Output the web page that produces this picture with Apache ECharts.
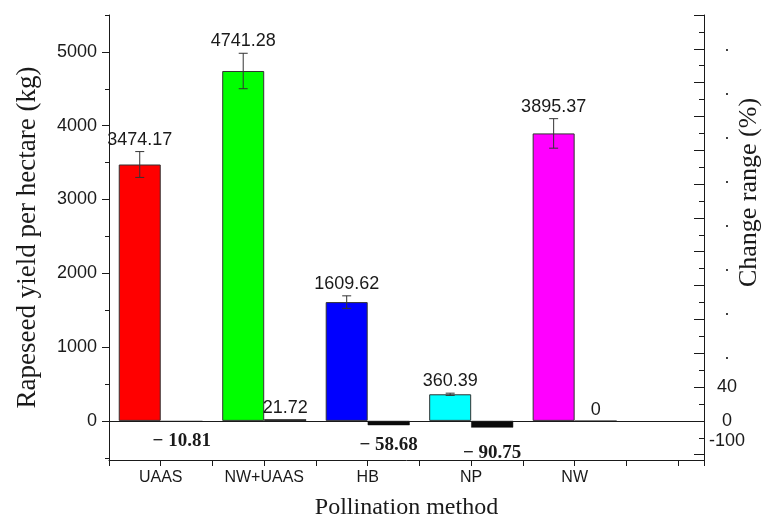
<!DOCTYPE html>
<html>
<head>
<meta charset="utf-8">
<script src="https://cdn.jsdelivr.net/npm/echarts@6/dist/echarts.min.js"></script>
<style>
  html, body { margin: 0; padding: 0; background: #fff; }
  #chart { width: 765px; height: 525px; }
</style>
</head>
<body>
<div id="chart"></div>
<script>
// Pollination methods and measured yield (kg per hectare) with its error
const categories = ['UAAS', 'NW+UAAS', 'HB', 'NP', 'NW'];
const yieldKg = [3474.17, 4741.28, 1609.62, 360.39, 3895.37];
const yieldErr = [175, 240, 85, 15, 200];
// Change range (%) for each method
const changePct = [-10.81, 21.72, -58.68, -90.75, 0];
const barColors = ['#ff0000', '#00ff00', '#0000ff', '#00ffff', '#ff00ff'];

// Left axis tick values
const leftMajorTicks = [0, 1000, 2000, 3000, 4000, 5000];
const leftMinorTicks = [-500, 500, 1500, 2500, 3500, 4500, 5500];
// Right axis tick labels
const rightLabelValues = [-24, 0, 40, 74, 126, 178, 230, 282, 334, 386, 438];
const rightLabelTexts = ['-100', '0', '40', '·', '·', '·', '·', '·', '·', '·', '·'];

const LEFT_MIN = -530, LEFT_MAX = 5500;
const RIGHT_MIN = -46.3, RIGHT_MAX = 480;
const BAR_W = 42;

const rightMajorTicks = [], rightMinorTicks = [];
for (let v = -40; v <= 480; v += 40) rightMajorTicks.push(v);
for (let v = -20; v < 480; v += 40) rightMinorTicks.push(v);

const sans = '"Liberation Sans", Arial, sans-serif';
const serif = '"Liberation Serif", "Times New Roman", serif';
const ink = '#1a1a1a';

const yieldData = categories.map((c, i) => ({
  value: [i + 1, yieldKg[i]],
  itemStyle: { color: barColors[i] }
}));

const changeData = categories.map((c, i) => {
  const v = changePct[i];
  const neg = v < 0;
  return {
    value: [i + 1, v],
    label: neg
      ? { show: true, position: 'bottom', distance: v < -80 ? 16 : 10, fontFamily: serif, fontWeight: 'bold', fontSize: 19, color: ink,
          formatter: () => '\u2212 ' + Math.abs(v).toFixed(2) }
      : { show: true, position: 'top', distance: 2, fontFamily: sans, fontSize: 18, color: ink,
          formatter: () => (v === 0 ? '0' : v.toFixed(2)) }
  };
});

const errData = categories.map((c, i) => [i + 1, yieldKg[i], yieldErr[i]]);

const chart = echarts.init(document.getElementById('chart'), null, { renderer: 'canvas' });

chart.setOption({
  animation: false,
  backgroundColor: '#fff',
  grid: { left: 109, right: 61, top: 15, bottom: 65, containLabel: false, outerBoundsMode: 'none' },
  xAxis: {
    type: 'value',
    min: 0.5,
    max: 6.25,
    interval: 0.5,
    splitLine: { show: false },
    axisLine: { onZero: false, lineStyle: { color: ink, width: 1 } },
    axisTick: { length: 6, lineStyle: { color: ink } },
    axisLabel: {
      margin: 10,
      fontFamily: sans,
      fontSize: 16,
      color: ink,
      formatter: v => (Number.isInteger(v) && v >= 1 && v <= categories.length) ? categories[v - 1] : ''
    },
    name: 'Pollination method',
    nameLocation: 'middle',
    nameGap: 36,
    nameMoveOverlap: false,
    nameTextStyle: { fontFamily: serif, fontSize: 24, color: ink }
  },
  yAxis: [
    {
      type: 'value',
      position: 'left',
      min: LEFT_MIN,
      max: LEFT_MAX,
      splitLine: { show: false },
      axisLine: { show: true, lineStyle: { color: ink, width: 1 } },
      axisTick: { show: true, length: 7, customValues: leftMajorTicks, lineStyle: { color: ink } },
      axisLabel: { customValues: leftMajorTicks, margin: 12, fontFamily: sans, fontSize: 18, color: ink,
                   formatter: v => String(v) },
      name: 'Rapeseed yield per hectare (kg)',
      nameLocation: 'middle',
      nameRotate: 90,
      nameGap: 68,
      nameMoveOverlap: false,
      nameTextStyle: { fontFamily: serif, fontSize: 27, color: ink }
    },
    {
      type: 'value',
      position: 'right',
      min: RIGHT_MIN,
      max: RIGHT_MAX,
      splitLine: { show: false },
      axisLine: { show: true, lineStyle: { color: ink, width: 1 } },
      axisTick: { show: true, inside: true, length: 10, customValues: rightMajorTicks, lineStyle: { color: ink } },
      axisLabel: {
        customValues: rightLabelValues,
        margin: 23,
        align: 'center',
        fontFamily: sans,
        fontSize: 18,
        color: ink,
        formatter: v => {
          const k = rightLabelValues.indexOf(v);
          return k >= 0 ? rightLabelTexts[k] : '';
        }
      },
      name: 'Change range (%)',
      nameLocation: 'middle',
      nameRotate: 90,
      nameGap: 32,
      nameMoveOverlap: false,
      nameTextStyle: { fontFamily: serif, fontSize: 26, color: ink, padding: [0, 0, 0, 90] }
    },
    {
      // short ticks between the right axis majors
      type: 'value',
      position: 'right',
      min: RIGHT_MIN,
      max: RIGHT_MAX,
      splitLine: { show: false },
      axisLine: { show: false },
      axisTick: { show: true, inside: true, length: 5, customValues: rightMinorTicks, lineStyle: { color: ink } },
      axisLabel: { show: false }
    },
    {
      // short ticks between the left axis majors
      type: 'value',
      position: 'left',
      min: LEFT_MIN,
      max: LEFT_MAX,
      splitLine: { show: false },
      axisLine: { show: false },
      axisTick: { show: true, length: 4, customValues: leftMinorTicks, lineStyle: { color: ink } },
      axisLabel: { show: false }
    }
  ],
  series: [
    {
      name: 'Yield',
      type: 'bar',
      yAxisIndex: 0,
      barWidth: BAR_W,
      barGap: '0%',
      data: yieldData,
      itemStyle: { borderColor: '#333', borderWidth: 1 },
      markLine: {
        silent: true,
        symbol: ['none', 'none'],
        label: { show: false },
        lineStyle: { color: ink, width: 1, type: 'solid' },
        data: [{ yAxis: 0 }]
      }
    },
    {
      name: 'Change',
      type: 'bar',
      yAxisIndex: 0,
      barWidth: BAR_W,
      barGap: '0%',
      data: changeData,
      itemStyle: { color: '#0a0a0a', borderColor: '#0a0a0a', borderWidth: 0.5 }
    },
    {
      name: 'Error',
      type: 'custom',
      yAxisIndex: 0,
      z: 5,
      data: errData,
      renderItem: (params, api) => {
        const x = api.value(0), v = api.value(1), e = api.value(2);
        const base = api.coord([x, v]);
        const top = api.coord([x, v + e]);
        const bot = api.coord([x, v - e]);
        const cx = base[0] - BAR_W / 2;
        const cap = 4.5;
        const st = { stroke: '#333', lineWidth: 1 };
        return {
          type: 'group',
          children: [
            { type: 'line', shape: { x1: cx, y1: top[1], x2: cx, y2: bot[1] }, style: st },
            { type: 'line', shape: { x1: cx - cap, y1: top[1], x2: cx + cap, y2: top[1] }, style: st },
            { type: 'line', shape: { x1: cx - cap, y1: bot[1], x2: cx + cap, y2: bot[1] }, style: st },
            {
              type: 'text',
              style: {
                x: cx, y: top[1] - 3,
                text: v.toFixed(2),
                align: 'center', verticalAlign: 'bottom',
                font: '18px ' + sans,
                fill: ink
              }
            }
          ]
        };
      }
    }
  ]
});
</script>
</body>
</html>
